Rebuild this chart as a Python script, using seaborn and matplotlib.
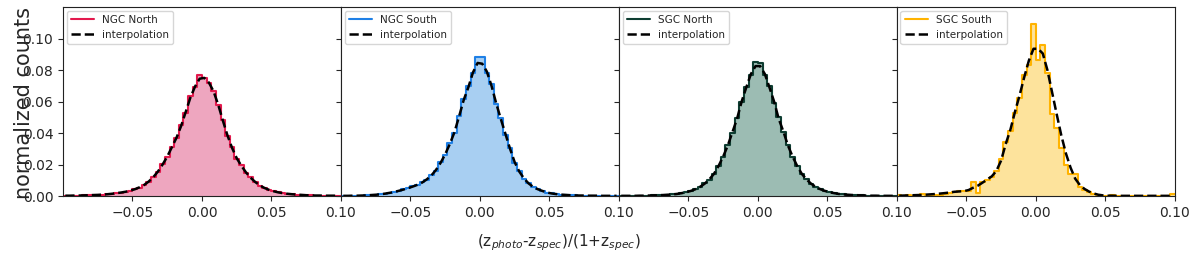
import numpy as np
import pandas as pd
import matplotlib
matplotlib.use("Agg")
import matplotlib.pyplot as plt
from matplotlib.lines import Line2D
import seaborn as sns

# histogram binning: 60 bins over [-0.1, 0.1]
n_bins = 60
bin_range = (-0.1, 0.1)
bin_edges = np.linspace(bin_range[0], bin_range[1], n_bins + 1)
bin_centers = (bin_edges[:-1] + bin_edges[1:]) / 2

regions = ["NGC North", "NGC South", "SGC North", "SGC South"]

ngc_north_hist = [
    0.0002, 0.0002, 0.0002, 0.0003, 0.0004, 0.0005, 0.0005, 0.0008, 0.0009, 0.0011,
    0.0013, 0.0019, 0.0022, 0.0028, 0.0033, 0.0044, 0.0054, 0.0072, 0.0090, 0.0122,
    0.0154, 0.0203, 0.0248, 0.0314, 0.0366, 0.0450, 0.0530, 0.0632, 0.0690, 0.0767,
    0.0752, 0.0715, 0.0670, 0.0575, 0.0485, 0.0380, 0.0310, 0.0236, 0.0195, 0.0147,
    0.0118, 0.0087, 0.0066, 0.0049, 0.0040, 0.0029, 0.0024, 0.0017, 0.0014, 0.0011,
    0.0008, 0.0007, 0.0005, 0.0004, 0.0003, 0.0003, 0.0002, 0.0002, 0.0001, 0.0001,
]
ngc_north_interp = [
    0.0002, 0.0002, 0.0003, 0.0003, 0.0004, 0.0005, 0.0006, 0.0007, 0.0009, 0.0011,
    0.0014, 0.0018, 0.0022, 0.0027, 0.0034, 0.0043, 0.0055, 0.0070, 0.0092, 0.0120,
    0.0156, 0.0200, 0.0250, 0.0310, 0.0370, 0.0445, 0.0535, 0.0625, 0.0695, 0.0745,
    0.0750, 0.0720, 0.0665, 0.0580, 0.0480, 0.0385, 0.0305, 0.0240, 0.0192, 0.0150,
    0.0116, 0.0089, 0.0067, 0.0051, 0.0039, 0.0030, 0.0023, 0.0018, 0.0014, 0.0011,
    0.0009, 0.0007, 0.0005, 0.0004, 0.0003, 0.0003, 0.0002, 0.0002, 0.0002, 0.0001,
]

ngc_south_hist = [
    0.0001, 0.0001, 0.0002, 0.0002, 0.0003, 0.0004, 0.0005, 0.0008, 0.0012, 0.0015,
    0.0019, 0.0027, 0.0032, 0.0042, 0.0049, 0.0061, 0.0070, 0.0087, 0.0103, 0.0133,
    0.0162, 0.0214, 0.0262, 0.0335, 0.0400, 0.0505, 0.0615, 0.0700, 0.0780, 0.0880,
    0.0885, 0.0780, 0.0710, 0.0585, 0.0495, 0.0390, 0.0305, 0.0210, 0.0158, 0.0110,
    0.0082, 0.0057, 0.0044, 0.0031, 0.0022, 0.0016, 0.0012, 0.0009, 0.0007, 0.0005,
    0.0004, 0.0003, 0.0003, 0.0002, 0.0002, 0.0002, 0.0001, 0.0001, 0.0001, 0.0001,
]
ngc_south_interp = [
    0.0001, 0.0001, 0.0002, 0.0002, 0.0003, 0.0004, 0.0006, 0.0008, 0.0011, 0.0015,
    0.0020, 0.0026, 0.0033, 0.0041, 0.0050, 0.0060, 0.0071, 0.0085, 0.0105, 0.0130,
    0.0165, 0.0210, 0.0265, 0.0330, 0.0405, 0.0505, 0.0610, 0.0690, 0.0785, 0.0845,
    0.0840, 0.0790, 0.0700, 0.0590, 0.0490, 0.0395, 0.0300, 0.0215, 0.0155, 0.0112,
    0.0080, 0.0058, 0.0043, 0.0032, 0.0022, 0.0016, 0.0012, 0.0009, 0.0007, 0.0005,
    0.0004, 0.0003, 0.0003, 0.0002, 0.0002, 0.0002, 0.0001, 0.0001, 0.0001, 0.0001,
]

sgc_north_hist = [
    0.0001, 0.0001, 0.0001, 0.0001, 0.0002, 0.0002, 0.0003, 0.0004, 0.0005, 0.0006,
    0.0008, 0.0010, 0.0014, 0.0017, 0.0025, 0.0031, 0.0044, 0.0057, 0.0080, 0.0103,
    0.0138, 0.0192, 0.0246, 0.0325, 0.0400, 0.0495, 0.0595, 0.0695, 0.0770, 0.0850,
    0.0845, 0.0770, 0.0700, 0.0590, 0.0500, 0.0405, 0.0325, 0.0245, 0.0193, 0.0137,
    0.0107, 0.0076, 0.0059, 0.0042, 0.0033, 0.0023, 0.0018, 0.0013, 0.0010, 0.0008,
    0.0006, 0.0005, 0.0004, 0.0003, 0.0002, 0.0002, 0.0001, 0.0001, 0.0001, 0.0001,
]
sgc_north_interp = [
    0.0001, 0.0001, 0.0001, 0.0001, 0.0002, 0.0002, 0.0003, 0.0004, 0.0005, 0.0006,
    0.0008, 0.0010, 0.0013, 0.0018, 0.0024, 0.0032, 0.0043, 0.0058, 0.0078, 0.0105,
    0.0140, 0.0190, 0.0250, 0.0320, 0.0405, 0.0490, 0.0600, 0.0690, 0.0775, 0.0825,
    0.0825, 0.0775, 0.0690, 0.0600, 0.0490, 0.0410, 0.0320, 0.0250, 0.0190, 0.0140,
    0.0105, 0.0078, 0.0058, 0.0043, 0.0032, 0.0024, 0.0018, 0.0013, 0.0010, 0.0008,
    0.0006, 0.0005, 0.0004, 0.0003, 0.0002, 0.0002, 0.0001, 0.0001, 0.0001, 0.0001,
]

sgc_south_hist = [
    0.0005, 0.0002, 0.0005, 0.0002, 0.0003, 0.0015, 0.0004, 0.0003, 0.0005, 0.0007,
    0.0014, 0.0022, 0.0024, 0.0030, 0.0031, 0.0033, 0.0087, 0.0017, 0.0092, 0.0104,
    0.0120, 0.0158, 0.0232, 0.0340, 0.0410, 0.0530, 0.0625, 0.0770, 0.0835, 0.1095,
    0.0862, 0.0962, 0.0778, 0.0518, 0.0433, 0.0302, 0.0200, 0.0139, 0.0139, 0.0060,
    0.0040, 0.0025, 0.0012, 0.0006, 0.0003, 0.0000, 0.0004, 0.0003, 0.0000, 0.0000,
    0.0003, 0.0002, 0.0000, 0.0002, 0.0002, 0.0000, 0.0000, 0.0002, 0.0000, 0.0010,
]
sgc_south_interp = [
    0.0002, 0.0003, 0.0004, 0.0005, 0.0006, 0.0007, 0.0009, 0.0011, 0.0013, 0.0016,
    0.0019, 0.0023, 0.0027, 0.0029, 0.0031, 0.0038, 0.0053, 0.0066, 0.0085, 0.0105,
    0.0125, 0.0160, 0.0225, 0.0330, 0.0420, 0.0535, 0.0640, 0.0755, 0.0860, 0.0935,
    0.0935, 0.0905, 0.0800, 0.0660, 0.0520, 0.0385, 0.0270, 0.0180, 0.0110, 0.0070,
    0.0045, 0.0028, 0.0016, 0.0008, 0.0004, 0.0002, 0.0002, 0.0001, 0.0001, 0.0001,
    0.0001, 0.0001, 0.0001, 0.0001, 0.0001, 0.0001, 0.0001, 0.0001, 0.0001, 0.0001,
]

hists = [ngc_north_hist, ngc_south_hist, sgc_north_hist, sgc_south_hist]
interps = [ngc_north_interp, ngc_south_interp, sgc_north_interp, sgc_south_interp]

line_colors = ["#e3194d", "#1f80e6", "#0e3d31", "#ffb300"]
fill_colors = ["#eea6bf", "#a8cff2", "#9cbcb3", "#fde39c"]

sns.set_style("ticks")
plt.rcParams["font.family"] = ["DejaVu Sans"]

fig, axes = plt.subplots(1, 4, figsize=(12, 2.61), sharey=True)
fig.subplots_adjust(left=0.0525, right=0.979, top=0.973, bottom=0.249, wspace=0)

for ax, name, hist, interp, lc, fc in zip(axes, regions, hists, interps, line_colors, fill_colors):
    df = pd.DataFrame({"dz": bin_centers, "frac": hist, "interp": interp})
    sns.histplot(data=df, x="dz", weights="frac", bins=n_bins, binrange=bin_range,
                 element="step", fill=True, color=fc, alpha=1, linewidth=0, ax=ax)
    sns.histplot(data=df, x="dz", weights="frac", bins=n_bins, binrange=bin_range,
                 element="step", fill=False, color=lc, linewidth=1.5, ax=ax)
    sns.lineplot(data=df, x="dz", y="interp", color="k", linestyle="--",
                 linewidth=1.8, ax=ax)
    ax.set_xlim(-0.1, 0.1)
    ax.set_ylim(0, 0.12)
    ax.set_xticks([-0.05, 0.0, 0.05, 0.10])
    ax.set_yticks([0.0, 0.02, 0.04, 0.06, 0.08, 0.10])
    ax.tick_params(labelsize=10)
    ax.set_xlabel("")
    ax.set_ylabel("")
    for sp in ax.spines.values():
        sp.set_color("#222222")
    handles = [Line2D([], [], color=lc, lw=1.5),
               Line2D([], [], color="k", ls="--", lw=1.8)]
    ax.legend(handles, [name, "interpolation"], loc="upper left", fontsize=7.5,
              handlelength=2.2, borderaxespad=0.35)

axes[0].set_ylabel("normalized counts", fontsize=15)
axes[0].yaxis.set_label_coords(-0.105, 0.49)

fig.text(0.466, 0.069, r"(z$_{photo}$-z$_{spec}$)/(1+z$_{spec}$)", fontsize=11,
         ha="center", va="center")

fig.savefig("out.png", dpi=100)
plt.close(fig)
